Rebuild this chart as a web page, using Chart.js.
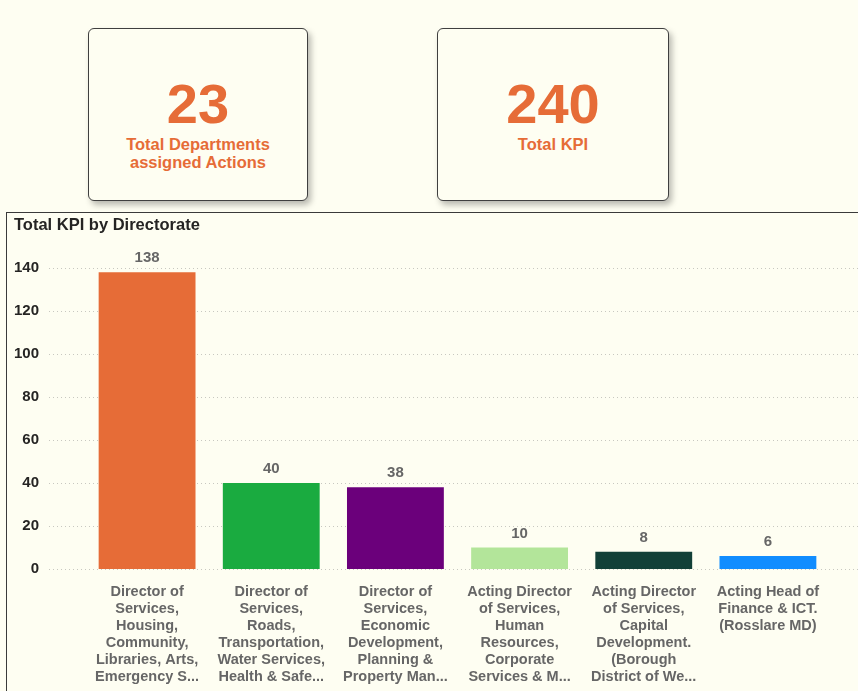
<!DOCTYPE html>
<html>
<head>
<meta charset="utf-8">
<script src="https://cdn.jsdelivr.net/npm/chart.js@4"></script>
<style>
  body { margin: 0; background: #fefef2; font-family: "Liberation Sans", Arial, sans-serif; }
  .page { position: relative; width: 858px; height: 691px; overflow: hidden; background: #fefef2; }
  .card {
    position: absolute; top: 28px; height: 171px;
    border: 1px solid #3f3f3f; border-radius: 6px; background: #fefef2;
    box-shadow: 3px 4px 6px rgba(0,0,0,0.28);
    text-align: center; color: #e66c37; font-weight: bold;
  }
  .card .num { font-size: 56px; line-height: 56px; margin-top: 47px; }
  .card .txt { font-size: 16.5px; line-height: 18px; margin-top: 3px; }
  .panel {
    position: absolute; left: 6px; top: 212px; width: 852px; height: 479px;
    border-top: 1px solid #3a3a3a; border-left: 1px solid #3a3a3a; background: #fefef2;
  }
  .title { position: absolute; left: 7px; top: 2px; font-size: 16.5px; font-weight: bold; color: #252423; }
  #chart { position: absolute; left: 0; top: 0; }
</style>
</head>
<body>
<div class="page">
  <div class="card" style="left:88px; width:218px;">
    <div class="num">23</div>
    <div class="txt">Total Departments<br>assigned Actions</div>
  </div>
  <div class="card" style="left:437px; width:230px;">
    <div class="num">240</div>
    <div class="txt">Total KPI</div>
  </div>
  <div class="panel">
    <canvas id="chart" width="851" height="478"></canvas>
    <div class="title">Total KPI by Directorate</div>
  </div>
</div>
<script>
const directorates = [
  ["Director of", "Services,", "Housing,", "Community,", "Libraries, Arts,", "Emergency S..."],
  ["Director of", "Services,", "Roads,", "Transportation,", "Water Services,", "Health & Safe..."],
  ["Director of", "Services,", "Economic", "Development,", "Planning &", "Property Man..."],
  ["Acting Director", "of Services,", "Human", "Resources,", "Corporate", "Services & M..."],
  ["Acting Director", "of Services,", "Capital", "Development.", "(Borough", "District of We..."],
  ["Acting Head of", "Finance & ICT.", "(Rosslare MD)"]
];
const kpiCounts = [138, 40, 38, 10, 8, 6];
const barColors = ["#e66c37", "#1aab40", "#6b007b", "#b3e59a", "#124038", "#118dff"];
const yTicks = [0, 20, 40, 60, 80, 100, 120, 140];

// dotted gridlines that run past the plot area, like the original
const gridPlugin = {
  id: 'wideGrid',
  beforeDatasetsDraw(chart) {
    const ctx = chart.ctx;
    const y = chart.scales.y;
    ctx.save();
    ctx.strokeStyle = '#c8c8c0';
    ctx.lineWidth = 1;
    ctx.setLineDash([1, 3]);
    yTicks.forEach(v => {
      const py = Math.round(y.getPixelForValue(v)) + 0.5;
      ctx.beginPath();
      ctx.moveTo(42, py);
      ctx.lineTo(chart.width, py);
      ctx.stroke();
    });
    ctx.restore();
  }
};

const valueLabels = {
  id: 'valueLabels',
  afterDatasetsDraw(chart) {
    const ctx = chart.ctx;
    const meta = chart.getDatasetMeta(0);
    ctx.save();
    ctx.font = 'bold 15px "Liberation Sans", Arial, sans-serif';
    ctx.fillStyle = '#666666';
    ctx.textAlign = 'center';
    ctx.textBaseline = 'middle';
    meta.data.forEach((bar, i) => {
      ctx.fillText(kpiCounts[i], bar.x, bar.y - 14);
    });
    ctx.restore();
  }
};

new Chart(document.getElementById('chart'), {
  type: 'bar',
  data: {
    labels: directorates,
    datasets: [{
      data: kpiCounts,
      backgroundColor: barColors,
      categoryPercentage: 1,
      barPercentage: 0.78
    }]
  },
  options: {
    responsive: false,
    animation: false,
    layout: { padding: { left: 0, right: 28, top: 0, bottom: 0 } },
    plugins: { legend: { display: false }, tooltip: { enabled: false } },
    scales: {
      x: {
        grid: { display: false },
        border: { display: false },
        ticks: {
          color: '#666666',
          font: { family: '"Liberation Sans", Arial, sans-serif', size: 14.5, weight: 'bold', lineHeight: 1.17 },
          maxRotation: 0, minRotation: 0, autoSkip: false, padding: 7
        },
        afterFit(s) { s.height = 122; }
      },
      y: {
        min: 0, max: 140,
        grid: { display: false },
        border: { display: false },
        ticks: {
          stepSize: 20,
          color: '#252423',
          font: { family: '"Liberation Sans", Arial, sans-serif', size: 15, weight: 'bold' },
          padding: 38
        },
        afterFit(s) { s.width = 78; s.paddingTop = 55; }
      }
    }
  },
  plugins: [gridPlugin, valueLabels]
});
</script>
</body>
</html>
